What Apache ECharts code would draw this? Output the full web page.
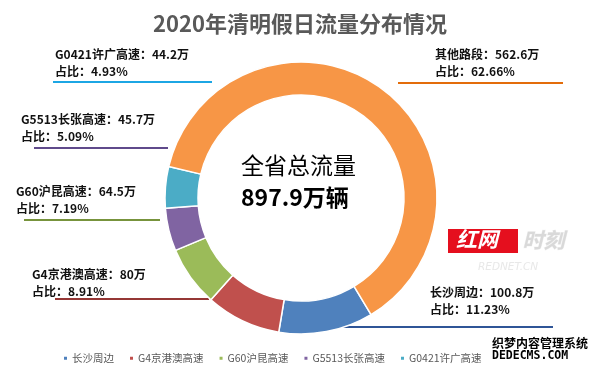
<!DOCTYPE html>
<html>
<head>
<meta charset="utf-8">
<script src="https://cdn.jsdelivr.net/npm/echarts@6/dist/echarts.min.js"></script>
<style>
html,body{margin:0;padding:0;background:#fff;}
#main{width:600px;height:369px;}
</style>
</head>
<body>
<div id="main"></div>
<script>
// ---- data ----
var categories = ['长沙周边', 'G4京港澳高速', 'G60沪昆高速', 'G5513长张高速', 'G0421许广高速', '其他路段'];
var values = [100.8, 80, 64.5, 45.7, 44.2, 562.6];
var shareLabels = ['11.23%', '8.91%', '7.19%', '5.09%', '4.93%', '62.66%'];
var legendNames = ['长沙周边', 'G4京港澳高速', 'G60沪昆高速', 'G5513长张高速', 'G0421许广高速'];
var totalText = '897.9万辆';
var titleText = '2020年清明假日流量分布情况';

// ---- styles / layout ----
var sliceColors = ['#4F81BD', '#C0504D', '#9BBB59', '#8064A2', '#4BACC6', '#F79646'];
var lineColors = ['#2F5597', '#953735', '#77933C', '#5F4A8B', '#1CA6E4', '#E36C0A'];
// [textLeft, textTop, lineStartX, lineEndX, lineY]
var labelSpots = [
  [430, 284, 339, 553, 327],
  [32, 266, 55, 209, 299],
  [16, 183, 24, 160, 220],
  [21, 111, 34, 168, 148],
  [55, 46, 53, 212, 82],
  [435, 46, 398, 563, 83]
];

var chart = echarts.init(document.getElementById('main'), null, {renderer: 'canvas'});
var seriesData = categories.map(function (c, i) {
  return {
    name: c,
    value: values[i],
    itemStyle: {color: sliceColors[i]},
    labelLine: {lineStyle: {color: lineColors[i], width: 2}}
  };
});

var CJK = '"Noto Sans CJK SC", "Microsoft YaHei", sans-serif';

chart.setOption({
  backgroundColor: '#ffffff',
  animation: false,
  title: {
    text: titleText,
    left: 'center',
    top: 8,
    textStyle: {fontFamily: CJK, fontSize: 22, fontWeight: 'bold', color: '#595959'}
  },
  legend: {
    data: legendNames,
    left: 57,
    top: 348,
    icon: 'rect',
    itemWidth: 5,
    itemHeight: 5,
    itemGap: 14,
    textStyle: {fontFamily: CJK, fontSize: 10.5, color: '#595959', padding: [0, 0, 0, -1]}
  },
  series: [{
    type: 'pie',
    center: [301, 198],
    radius: [103, 136],
    startAngle: -59,
    clockwise: true,
    avoidLabelOverlap: false,
    data: seriesData,
    itemStyle: {borderColor: '#ffffff', borderWidth: 1.5},
    label: {
      show: true,
      position: 'outside',
      fontFamily: CJK,
      fontSize: 12,
      fontWeight: 'bold',
      color: '#111111',
      lineHeight: 17,
      formatter: function (p) {
        return p.name + '：' + p.value + '万\n占比：' + shareLabels[p.dataIndex];
      }
    },
    labelLine: {show: true, length: 10, length2: 10},
    labelLayout: function (p) {
      var s = labelSpots[p.dataIndex];
      return {
        x: s[0],
        y: s[1],
        align: 'left',
        verticalAlign: 'top',
        labelLinePoints: [[s[2], s[4]], [s[3], s[4]], [s[3], s[4]]]
      };
    },
    emphasis: {disabled: true}
  }],
  graphic: [
    {
      type: 'text',
      left: 241,
      top: 154,
      style: {
        text: '{a|全省总流量}\n{b|' + totalText + '}',
        rich: {
          a: {fontFamily: CJK, fontSize: 23, fontWeight: 'normal', fill: '#000', lineHeight: 32},
          b: {fontFamily: CJK, fontSize: 23, fontWeight: 'bold', fill: '#000', lineHeight: 32}
        }
      }
    },
    {type: 'rect', left: 448, top: 229, shape: {width: 70, height: 24}, style: {fill: '#E50F1E'}},
    {type: 'text', left: 456, top: 229, style: {text: '红网', fontFamily: CJK, fontSize: 21, fontWeight: 'bold', fontStyle: 'italic', fill: '#ffffff'}},
    {type: 'text', left: 522, top: 229, style: {text: '时刻', fontFamily: CJK, fontSize: 21, fontWeight: 'bold', fontStyle: 'italic', fill: '#d9d9d9', stroke: '#f4f4f4', lineWidth: 1}},
    {type: 'text', left: 478, top: 262, style: {text: 'REDNET.CN', fontFamily: 'DejaVu Sans', fontSize: 10.5, fontStyle: 'italic', fill: '#e8e8e8'}},
    {
      type: 'text',
      left: 491,
      top: 336,
      style: {
        text: '{a|织梦内容管理系统}\n{b|DEDECMS.COM}',
        rich: {
          a: {fontFamily: CJK, fontSize: 12, fontWeight: 'bold', fill: '#000', stroke: '#fff', lineWidth: 2, lineHeight: 14},
          b: {fontFamily: 'DejaVu Sans Mono', fontSize: 11.5, fontWeight: 'bold', fill: '#000', stroke: '#fff', lineWidth: 2, lineHeight: 13}
        }
      }
    }
  ]
});
</script>
</body>
</html>
